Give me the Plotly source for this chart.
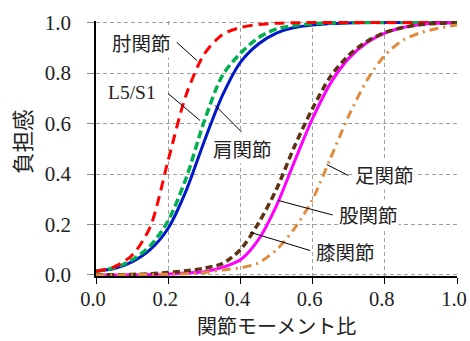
import plotly.graph_objects as go

# Joint moment ratio (x) and burden (y)
x_ratio = [0.00, 0.05, 0.10, 0.15, 0.20, 0.25, 0.30, 0.35, 0.40, 0.45, 0.50,
           0.55, 0.60, 0.65, 0.70, 0.75, 0.80, 0.85, 0.90, 0.95, 1.00]

elbow = [0.015, 0.032, 0.078, 0.190, 0.455, 0.715, 0.875, 0.952, 0.980, 0.992, 0.997,
         0.999, 1.000, 1.000, 1.000, 1.000, 1.000, 1.000, 1.000, 1.000, 1.000]
l5s1 = [0.015, 0.028, 0.060, 0.115, 0.215, 0.385, 0.610, 0.790, 0.878, 0.940, 0.975,
        0.988, 0.995, 0.998, 1.000, 1.000, 1.000, 1.000, 1.000, 1.000, 1.000]
shoulder = [0.015, 0.026, 0.052, 0.100, 0.185, 0.335, 0.530, 0.710, 0.842, 0.915, 0.958,
            0.980, 0.990, 0.996, 0.998, 1.000, 1.000, 1.000, 1.000, 1.000, 1.000]
hip_brown = [0.000, 0.001, 0.002, 0.005, 0.010, 0.017, 0.027, 0.045, 0.100, 0.205, 0.340,
             0.510, 0.660, 0.787, 0.870, 0.925, 0.960, 0.980, 0.992, 0.997, 1.000]
knee_magenta = [0.000, 0.000, 0.001, 0.002, 0.004, 0.008, 0.013, 0.030, 0.060, 0.140, 0.275,
                0.450, 0.620, 0.760, 0.858, 0.920, 0.958, 0.980, 0.992, 0.997, 1.000]
ankle = [0.000, 0.000, 0.001, 0.002, 0.003, 0.005, 0.010, 0.020, 0.028, 0.048, 0.100,
         0.185, 0.300, 0.464, 0.630, 0.770, 0.870, 0.930, 0.960, 0.978, 0.990]

tick_vals = [0.0, 0.2, 0.4, 0.6, 0.8, 1.0]
tick_text = ["0.0", "0.2", "0.4", "0.6", "0.8", "1.0"]

x_title = "関節モーメント比"
y_title = "負担感"

SERIF = "Liberation Serif"
CJK = "Noto Sans CJK JP"

# label text, label centre (x, y), leader line (x0, y0, x1, y1)
labels = [
    ("肘関節", 0.1255, 0.920, (0.2235, 0.922, 0.279, 0.850), CJK),
    ("L5/S1", 0.099, 0.722, (0.2003, 0.718, 0.288, 0.612), SERIF),
    ("肩関節", 0.406, 0.500, (0.3296, 0.672, 0.4036, 0.566), CJK),
    ("足関節", 0.798, 0.398, (0.639, 0.4376, 0.699, 0.394), CJK),
    ("股関節", 0.756, 0.240, (0.505, 0.295, 0.6557, 0.2376), CJK),
    ("膝関節", 0.692, 0.093, (0.4266, 0.1695, 0.5928, 0.097), CJK),
]

fig = go.Figure()

series = [
    (shoulder, "肩関節", dict(color="#0018C8", width=3, dash="solid")),
    (l5s1, "L5/S1", dict(color="#00B050", width=3.5, dash="8px,4px")),
    (elbow, "肘関節", dict(color="#FF0000", width=3, dash="10px,6px")),
    (knee_magenta, "膝", dict(color="#FF00FF", width=3, dash="solid")),
    (hip_brown, "股", dict(color="#5E3210", width=3.5, dash="7px,4px")),
    (ankle, "足関節", dict(color="#E08A3C", width=3, dash="9px,5px,2px,5px")),
]
for ys, name, line in series:
    fig.add_trace(go.Scatter(x=x_ratio, y=ys, mode="lines", name=name,
                             line=dict(shape="spline", smoothing=0.8, **line),
                             hoverinfo="skip"))

for text, lx, ly, (x0, y0, x1, y1), fam in labels:
    fig.add_shape(type="line", x0=x0, y0=y0, x1=x1, y1=y1, xref="x", yref="y",
                  line=dict(color="black", width=1), layer="above")
    fig.add_annotation(x=lx, y=ly, text=text, showarrow=False, xref="x", yref="y",
                       xanchor="center", yanchor="middle", bgcolor="white", borderpad=0,
                       font=dict(family=fam, size=19.5, color="#222222"))

# axis titles as annotations so they sit exactly where the reference has them
fig.add_annotation(x=-0.2064, y=0.527, xref="paper", yref="paper", text=y_title,
                   textangle=-90, showarrow=False, xanchor="center", yanchor="middle",
                   font=dict(family=CJK, size=21.5, color="#222222"))
fig.add_annotation(x=0.5, y=-0.254, xref="paper", yref="paper", text=x_title,
                   showarrow=False, xanchor="center", yanchor="bottom", borderpad=0,
                   font=dict(family=CJK, size=20, color="#222222"))

grid = dict(showgrid=True, gridcolor="#A0A0A0", gridwidth=1, griddash="4px,3px", zeroline=False)
fig.update_xaxes(range=[0, 1], tickmode="array", tickvals=tick_vals, ticktext=tick_text,
                 showline=True, linecolor="black", linewidth=1.5,
                 ticks="outside", ticklen=6, tickcolor="black", tickwidth=1,
                 tickfont=dict(family=SERIF, size=20.5, color="#222222"),
                 ticklabelshift=-3, ticklabelstandoff=-2,
                 **grid)
fig.update_yaxes(range=[-0.004, 1.006], tickmode="array", tickvals=tick_vals, ticktext=tick_text,
                 showline=True, linecolor="black", linewidth=1.5,
                 ticks="outside", ticklen=7, tickcolor="#888888", tickwidth=1,
                 tickfont=dict(family=SERIF, size=21, color="#222222"),
                 ticklabelstandoff=12,
                 **grid)
fig.update_layout(width=470, height=341, margin=dict(l=96, r=13, t=21, b=65, autoexpand=False),
                  font=dict(family=SERIF),
                  paper_bgcolor="white", plot_bgcolor="white", showlegend=False)

fig.write_html("out.html", config={"displayModeBar": False},
               post_script="document.body.style.margin='0';")
